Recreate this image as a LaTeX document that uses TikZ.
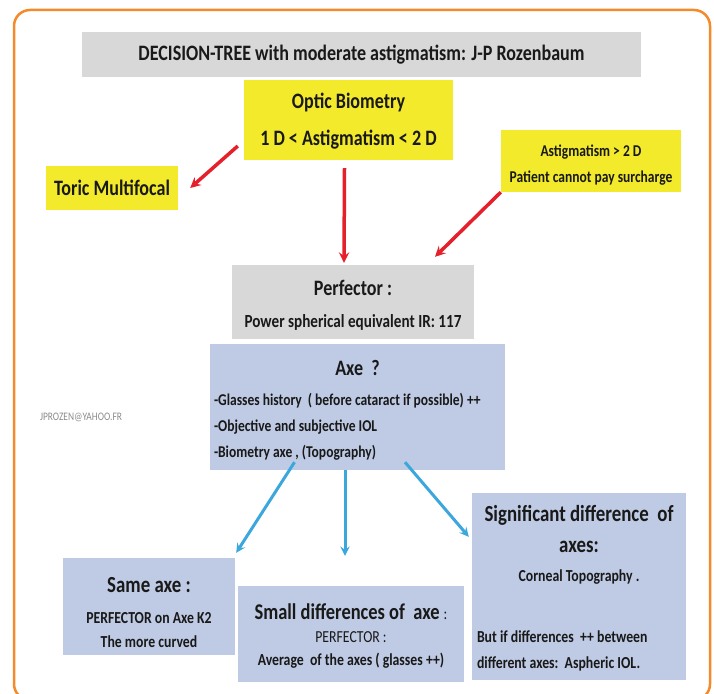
\documentclass[tikz,border=0pt]{standalone}
\usepackage{fontspec}
\setmainfont{Carlito}[FakeStretch=0.82]
\usepackage{xcolor}
\usetikzlibrary{arrows}

\definecolor{frameorange}{HTML}{F58A2B}
\definecolor{boxgray}{HTML}{D8D8D8}
\definecolor{boxyellow}{HTML}{F3EA2C}
\definecolor{boxblue}{HTML}{BFCBE4}
\definecolor{arrowred}{HTML}{E5202A}
\definecolor{arrowblue}{HTML}{3BA7DC}
\newcommand{\fs}[2]{\fontsize{#1}{#2}\selectfont}
\newcommand{\topgap}[1]{\rule{0pt}{#1}}

\begin{document}
\begin{tikzpicture}[x=1pt,y=-1pt,>=stealth,
    box/.style={inner sep=0pt,align=center,text=black!90},
    redarrow/.style={->,draw=arrowred,line width=3.5pt},
    bluearrow/.style={->,draw=arrowblue,line width=3pt}]

            \useasboundingbox (0,0) rectangle (714,693);
            \draw[frameorange,line width=2.5pt,rounded corners=16pt] (14,10) rectangle (710,700);

            \node[box,fill=boxgray,minimum width=559pt,minimum height=45pt,font=\bfseries\fs{22}{26}] (title) at (361.5,54.5)
                {DECISION-TREE with moderate astigmatism: J-P Rozenbaum};
            \node[box,fill=boxyellow,minimum width=209pt,minimum height=80pt,font=\bfseries\fs{22}{37}] (biom) at (348.5,120)
                {\topgap{18pt}Optic Biometry\\1 D < Astigmatism < 2 D};
            \node[box,fill=boxyellow,minimum width=132pt,minimum height=44pt,font=\bfseries\fs{22}{26}] (toric) at (112,188)
                {Toric Multifocal};
            \node[box,fill=boxyellow,minimum width=180pt,minimum height=62pt,font=\bfseries\fs{16.5}{26}] (astig) at (591,161)
                {\topgap{19pt}Astigmatism > 2 D\\Patient cannot pay surcharge};
            \node[box,fill=boxgray,minimum width=242pt,minimum height=74pt,font=\bfseries\fs{22}{32}] (perf) at (353,302)
                {\topgap{21pt}Perfector :\\\fs{18.5}{32}Power spherical equivalent IR: 117};
            \node[box,fill=boxblue,minimum width=295pt,minimum height=126pt,align=left,font=\bfseries\fs{16.5}{26}] (axe) at (357.5,407)
                {\fs{22}{26}\makebox[287pt]{\topgap{22pt}Axe\ \ ?}\\[4pt]
                 -Glasses history\ \ ( before cataract if possible) ++\\
                 -Objective and subjective IOL\\
                 -Biometry axe , (Topography)};
            \node[box,fill=boxblue,minimum width=172pt,minimum height=97pt,font=\bfseries\fs{16.8}{24}] (same) at (149,606.5)
                {\fs{23}{24}\topgap{27.5pt}Same axe :\\[7pt]PERFECTOR on Axe K2\\The more curved};
            \node[box,fill=boxblue,minimum width=226pt,minimum height=96pt,font=\bfseries\fs{16.8}{23}] (small) at (351,634)
                {\fs{22.5}{24}\topgap{19pt}Small differences of\ \ axe \mdseries\fs{16.8}{24}:\\
                 \mdseries PERFECTOR :\\Average\ \ of the axes ( glasses ++)};
            \node[box,fill=boxblue,minimum width=214pt,minimum height=187pt,align=left,font=\bfseries\fs{16.8}{26}] (signif) at (579,586.5)
                {\fs{23}{26}\makebox[204pt]{\topgap{20.5pt}Significant difference\ \ of}\\[5pt]
                 \fs{23}{26}\makebox[204pt]{axes:}\\[3pt]
                 \makebox[204pt]{Corneal Topography .}\\[35pt]
                 But if differences\ \ ++ between\\
                 different axes:\ \ Aspheric IOL.};
            \node[box,text=black!45,font=\fs{11.5}{12}] (mail) at (81,417) {JPROZEN@YAHOO.FR};

            \draw[redarrow] ([shift={(-6,26)}]biom.west) to ([xshift=12pt]toric.east);
            \draw[redarrow] ([xshift=-4pt,yshift=-8pt]biom.south) to ([xshift=-9pt,yshift=2pt]perf.north);
            \draw[redarrow] (astig.south west) to ([xshift=82pt,yshift=8pt]perf.north);
            \draw[bluearrow] ([xshift=-63pt,yshift=8pt]axe.south) to ([xshift=1pt,yshift=5pt]same.north east);
            \draw[bluearrow] ([xshift=-12.5pt]axe.south) to ([xshift=-6pt,yshift=30pt]small.north);
            \draw[bluearrow] ([xshift=47.5pt,yshift=8pt]axe.south) to ([xshift=-3pt,yshift=-44pt]signif.north west);

            ;
        \end{tikzpicture}
\end{document}
